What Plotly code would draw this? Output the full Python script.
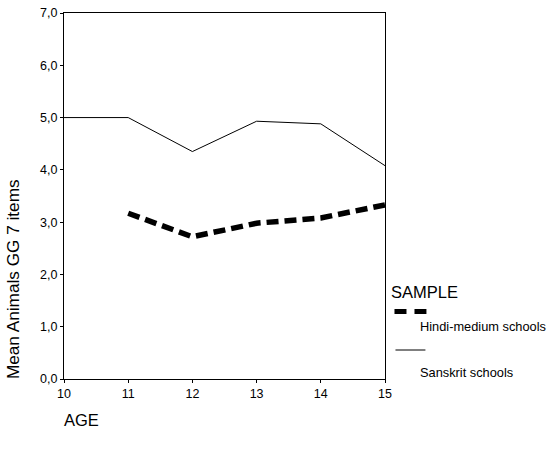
import plotly.graph_objects as go

ages_sanskrit = [10, 11, 12, 13, 14, 15]
sanskrit = [5.0, 5.0, 4.35, 4.93, 4.88, 4.08]
ages_hindi = [11, 12, 13, 14, 15]
hindi = [3.17, 2.72, 2.98, 3.08, 3.33]
x_ticks = [10, 11, 12, 13, 14, 15]
y_ticks = [0, 1, 2, 3, 4, 5, 6, 7]
y_labels = ["0,0", "1,0", "2,0", "3,0", "4,0", "5,0", "6,0", "7,0"]

font = "Arial, Liberation Sans, sans-serif"

PL, PR, PT, PB = 64, 385.5, 13, 379  # plot area in page px

fig = go.Figure()
fig.add_trace(go.Scatter(x=ages_hindi, y=hindi, mode="lines",
                         line=dict(color="black", width=5.5, dash="12px,6px"),
                         name="Hindi-medium schools", showlegend=False))
fig.add_trace(go.Scatter(x=ages_sanskrit, y=sanskrit, mode="lines",
                         line=dict(color="black", width=1),
                         name="Sanskrit schools", showlegend=False))

fig.update_layout(
    width=557, height=450,
    margin=dict(l=PL, r=557 - PR, t=PT, b=450 - PB, autoexpand=False),
    paper_bgcolor="white", plot_bgcolor="white",
    font=dict(family=font, size=12.5, color="black"),
    xaxis=dict(range=[10, 15], tickvals=x_ticks,
               showline=True, linecolor="black", linewidth=1, mirror=True,
               ticks="outside", ticklen=3, tickcolor="black",
               showgrid=False, zeroline=False, tickfont=dict(size=12.5),
               ticklabeloverflow="allow"),
    yaxis=dict(range=[0, 7], tickvals=y_ticks, ticktext=y_labels,
               showline=True, linecolor="black", linewidth=1, mirror=True,
               ticks="outside", ticklen=3, tickcolor="black",
               showgrid=False, zeroline=False, tickfont=dict(size=12.5),
               ticklabeloverflow="allow"),
    showlegend=False,
    hovermode=False,
)


def px(x):
    return (x - PL) / (PR - PL)


def py(y):
    return 1 - (y - PT) / (PB - PT)


# y-axis title (placed low, as in the reference)
fig.add_annotation(x=px(13), y=py(279), xref="paper", yref="paper",
                   text="Mean Animals GG 7 items", textangle=-90, showarrow=False,
                   xanchor="center", yanchor="middle", font=dict(size=17.2))

# AGE label
fig.add_annotation(x=px(62), y=py(420), xref="paper", yref="paper",
                   text="AGE", showarrow=False, xanchor="left", yanchor="middle",
                   font=dict(size=16.5))

# manual legend
fig.add_annotation(x=px(390), y=py(292), xref="paper", yref="paper", text="SAMPLE",
                   showarrow=False, xanchor="left", yanchor="middle", font=dict(size=16.5))
fig.add_shape(type="line", xref="paper", yref="paper",
              x0=px(395), x1=px(427), y0=py(311.5), y1=py(311.5),
              line=dict(color="black", width=5, dash="12px,8px"))
fig.add_annotation(x=px(419), y=py(326), xref="paper", yref="paper", text="Hindi-medium schools",
                   showarrow=False, xanchor="left", yanchor="middle", font=dict(size=12.8))
fig.add_shape(type="line", xref="paper", yref="paper",
              x0=px(396), x1=px(426), y0=py(350), y1=py(350),
              line=dict(color="black", width=1))
fig.add_annotation(x=px(419), y=py(372), xref="paper", yref="paper", text="Sanskrit schools",
                   showarrow=False, xanchor="left", yanchor="middle", font=dict(size=12.8))

fig.write_html("out.html",
               config={"displayModeBar": False, "staticPlot": True},
               post_script="document.body.style.margin='0';document.body.style.overflow='hidden';")
